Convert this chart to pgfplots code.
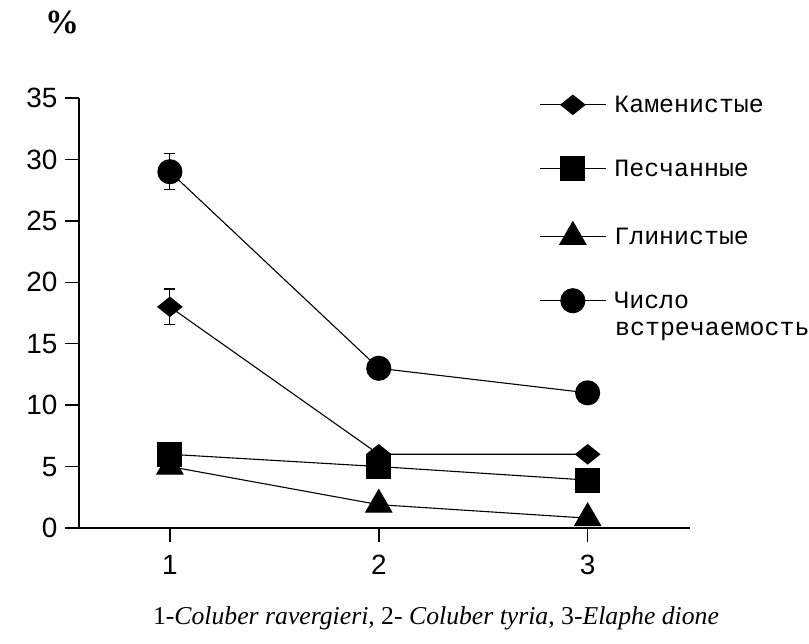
\documentclass[border=0pt]{standalone}
\usepackage{fontspec}
\setmainfont{Liberation Serif}
\newfontfamily\monofont{Liberation Mono}
\newfontfamily\sansfont{Liberation Sans}
\usepackage{pgfplots}
\pgfplotsset{compat=1.18}
\begin{document}
\begin{tikzpicture}[x=1bp,y=1bp]
\path[use as bounding box] (-79,-116) rectangle (730,528);
\begin{axis}[
  at={(0,0)}, anchor=south west,
  scale only axis, width=611bp, height=430bp,
  xmin=0.565, xmax=3.49, ymin=0, ymax=35,
  axis x line=bottom, axis y line=left,
  axis line style={-, line width=1.5bp},
  xtick={1,2,3}, ytick={0,5,10,15,20,25,30,35},
  tick align=outside,
  major tick length=14bp,
  tick style={line width=1.5bp, black},
  ticklabel style={font=\sansfont\fontsize{28}{28}\selectfont},
  /pgf/number format/assume math mode=true,
  yticklabel style={xshift=-4bp},
  xticklabel style={yshift=-10bp},
  clip=false,
  every axis plot/.append style={black, line width=1.1bp, mark options={solid, fill=black}},
  error bars/y dir=both, error bars/y explicit,
  error bars/error bar style={line width=1.2bp, black},
  error bars/error mark options={rotate=90, mark size=5.5bp, line width=1.2bp, black},
  legend style={at={(0.753,1.01)}, anchor=north west, draw=none, fill=none,
    inner sep=0pt, row sep=41bp,
    font=\monofont\fontsize{25}{25}\selectfont,
    nodes={inner xsep=8bp}},
  legend cell align=left,
  legend image code/.code={\draw[mark repeat=2,mark phase=2] plot coordinates {(0bp,0bp) (33bp,0bp) (66bp,0bp)};},
]
\addplot[mark=diamond*, mark size=16bp, mark options={yscale=0.6}] coordinates {(1,18) +- (0,1.45) (2,6) +- (0,0) (3,6) +- (0,0)};
\addlegendentry{Каменистые}
\addplot[mark=square*, mark size=12bp] coordinates {(1,6) +- (0,0) (2,5) +- (0,0) (3,3.9) +- (0,0)};
\addlegendentry{Песчанные}
\addplot[mark=triangle*, mark size=15bp] coordinates {(1,5) +- (0,0) (2,1.9) +- (0,0) (3,0.8) +- (0,0)};
\addlegendentry{Глинистые}
\addplot[mark=*, mark size=12bp] coordinates {(1,29) +- (0,1.45) (2,13) +- (0,0) (3,11) +- (0,0)};
\addlegendentry{Число}
\end{axis}
\node[anchor=west, font=\monofont\fontsize{25}{25}\selectfont, inner sep=0pt] at (536,197) {встречаемость};
\node[font=\bfseries\fontsize{34}{34}\selectfont] at (-17,506) {\%};
\node[font=\fontsize{25.8}{26}\selectfont] at (357,-90) {1-\textit{Coluber ravergieri}, 2- \textit{Coluber tyria}, 3-\textit{Elaphe dione}};
\end{tikzpicture}
\end{document}
